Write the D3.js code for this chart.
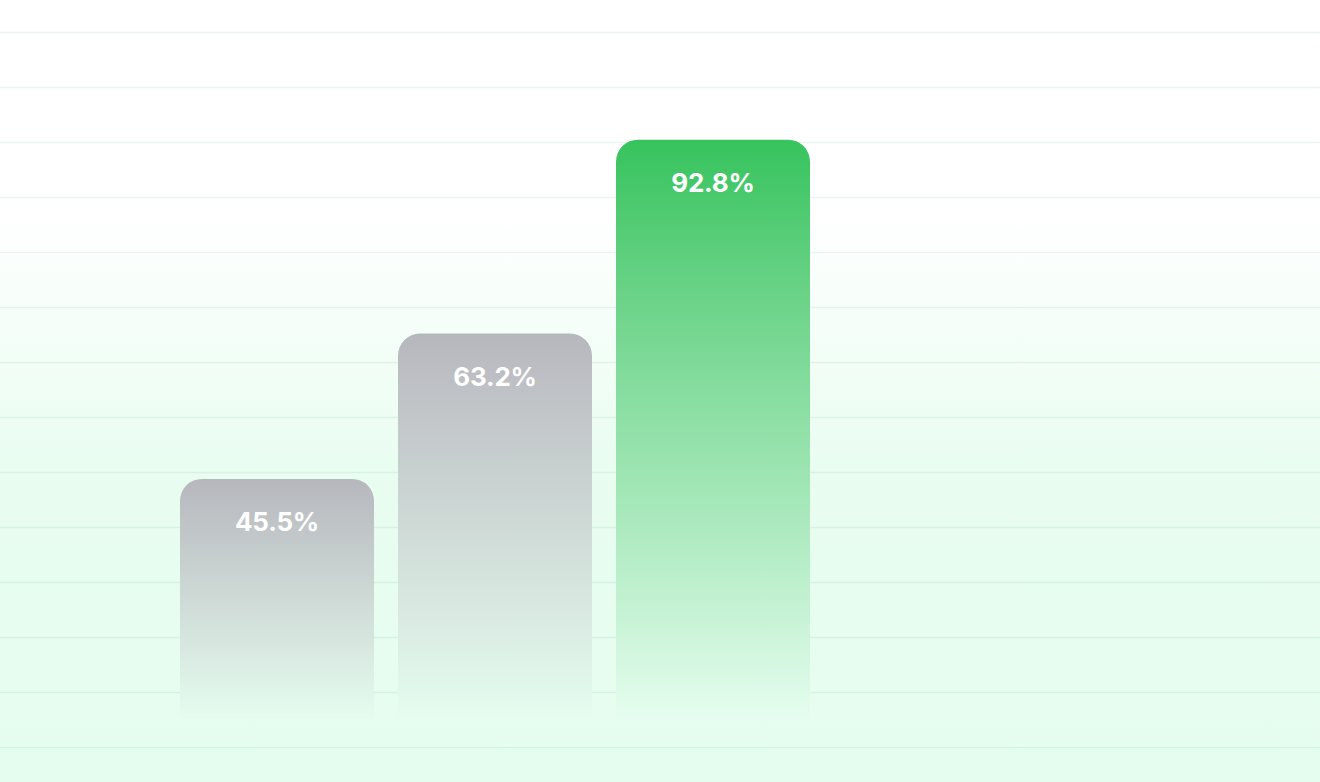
<!DOCTYPE html>
<html>
<head>
<meta charset="utf-8">
<script src="https://cdn.jsdelivr.net/npm/d3@7/dist/d3.min.js"></script>
<style>
  html, body { margin: 0; padding: 0; background: #ffffff; }
  svg { display: block; }
</style>
</head>
<body>
<svg id="chart" width="1320" height="782"></svg>
<script>
// ---- data ----
const categories = ["Bar 1", "Bar 2", "Bar 3"];
const values = [45.5, 63.2, 92.8];
const highlight = [false, false, true];
const gridSteps = d3.range(0, 14);

// ---- layout ----
const W = 1320, H = 782;
const svg = d3.select("#chart");
const defs = svg.append("defs");

const bg = defs.append("linearGradient").attr("id", "bgGrad")
  .attr("gradientUnits", "userSpaceOnUse")
  .attr("x1", 0).attr("y1", 0).attr("x2", 0).attr("y2", H);
bg.append("stop").attr("offset", 0).attr("stop-color", "#ffffff");
bg.append("stop").attr("offset", 0.27).attr("stop-color", "#ffffff");
bg.append("stop").attr("offset", 0.62).attr("stop-color", "#e8fdf0");
bg.append("stop").attr("offset", 1).attr("stop-color", "#e5fdef");

function barGrad(id, color) {
  const g = defs.append("linearGradient").attr("id", id)
    .attr("x1", 0).attr("y1", 0).attr("x2", 0).attr("y2", 1);
  g.append("stop").attr("offset", 0).attr("stop-color", color).attr("stop-opacity", 1);
  g.append("stop").attr("offset", 1).attr("stop-color", color).attr("stop-opacity", 0);
}
barGrad("grayGrad", "#b6b7bd");
barGrad("greenGrad", "#36c35d");

svg.append("rect").attr("width", W).attr("height", H).attr("fill", "url(#bgGrad)");

// grid
const gy = d3.scaleLinear().domain([0, 13]).range([747, 32]);
svg.append("g").selectAll("line").data(gridSteps).join("line")
  .attr("x1", 0).attr("x2", W)
  .attr("y1", d => Math.round(gy(d)) + 0.5).attr("y2", d => Math.round(gy(d)) + 0.5)
  .attr("stroke", "rgb(0,110,60)").attr("stroke-opacity", 0.075).attr("stroke-width", 1.3);

// scales
const x = d3.scaleBand().domain(categories).range([180, 810]).paddingInner(0.11).paddingOuter(0);
const y = d3.scalePow().exponent(0.37).domain([23.7, 100]).range([720, 98.6]);
const r = 22;

function barPath(d, i) {
  const x0 = x(categories[i]), w = x.bandwidth();
  const top = y(d), bot = y.range()[0];
  return `M${x0},${bot}V${top + r}A${r},${r} 0 0 1 ${x0 + r},${top}H${x0 + w - r}A${r},${r} 0 0 1 ${x0 + w},${top + r}V${bot}Z`;
}

const bars = svg.append("g");
bars.selectAll("path.base").data(values).join("path")
  .attr("class", "base").attr("d", barPath).attr("fill", "url(#bgGrad)");
bars.selectAll("path.bar").data(values).join("path")
  .attr("class", "bar").attr("d", barPath)
  .attr("fill", (d, i) => highlight[i] ? "url(#greenGrad)" : "url(#grayGrad)");

svg.append("g").selectAll("text").data(values).join("text")
  .attr("x", (d, i) => x(categories[i]) + x.bandwidth() / 2)
  .attr("y", d => y(d) + 52)
  .attr("text-anchor", "middle")
  .attr("fill", "#ffffff")
  .attr("font-family", "Inter, 'Noto Sans', sans-serif")
  .attr("font-weight", 700)
  .attr("font-size", 26)
  .attr("letter-spacing", -0.2)
  .text(d => d.toFixed(1) + "%");
</script>
</body>
</html>
